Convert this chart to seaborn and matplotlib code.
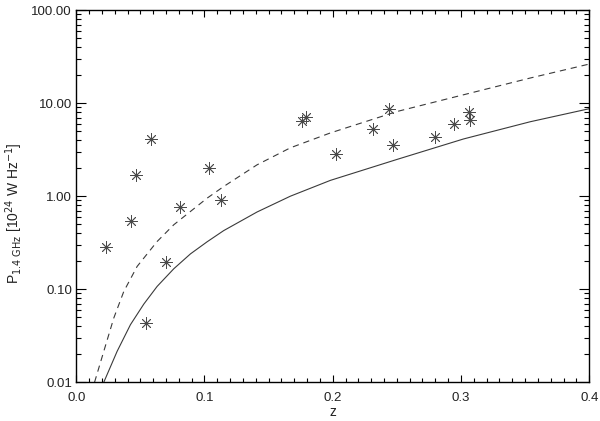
import numpy as np
import pandas as pd
import matplotlib
matplotlib.use("Agg")
import matplotlib.pyplot as plt
from matplotlib.ticker import MultipleLocator, LogLocator, FixedLocator, NullFormatter
import seaborn as sns

# Data points
z_obs = [0.0236, 0.0426, 0.0465, 0.0587, 0.0548, 0.0704, 0.0813, 0.1036, 0.1132,
         0.1761, 0.1795, 0.2028, 0.2317, 0.2436, 0.2473, 0.2795, 0.2945, 0.3059, 0.3073]
P_obs = [0.283, 0.544, 1.70, 4.15, 0.0432, 0.194, 0.762, 2.03, 0.914,
         6.46, 7.18, 2.85, 5.25, 8.69, 3.56, 4.38, 6.04, 7.98, 6.61]

# Solid limit curve
solid_z = [0.0215, 0.0319, 0.0423, 0.0527, 0.0631, 0.0761, 0.0891, 0.1021, 0.1150,
           0.1410, 0.1670, 0.1982, 0.2501, 0.3020, 0.3540, 0.4000]
solid_P = [0.0100, 0.0215, 0.0416, 0.0692, 0.1072, 0.1660, 0.2399, 0.3236, 0.4266,
           0.6761, 1.000, 1.479, 2.483, 4.121, 6.310, 8.710]

# Dashed limit curve
dashed_z = [0.0143, 0.0215, 0.0293, 0.0371, 0.0475, 0.0631, 0.0761, 0.0891, 0.1021,
            0.1150, 0.1410, 0.1670, 0.1982, 0.2501, 0.3020, 0.3540, 0.4000]
dashed_P = [0.0100, 0.0215, 0.0490, 0.0946, 0.1758, 0.3258, 0.4932, 0.6855, 0.9528,
            1.2706, 2.173, 3.311, 4.786, 8.128, 12.30, 18.62, 26.30]

x_ticks = [0.0, 0.1, 0.2, 0.3, 0.4]
x_ticklabels = ["0.0", "0.1", "0.2", "0.3", "0.4"]
y_ticks = [0.01, 0.1, 1, 10, 100]
y_ticklabels = ["0.01", "0.10", "1.00", "10.00", "100.00"]

sns.set_style("ticks")
plt.rcParams['font.family'] = ['Liberation Sans', 'DejaVu Sans']
plt.rcParams['lines.scale_dashes'] = False

fig = plt.figure(figsize=(6.0, 4.21), dpi=100)
ax = fig.add_axes([0.127, 0.092, 0.855, 0.884])

col = "#3a3a3a"
sns.lineplot(x=solid_z, y=solid_P, ax=ax, color=col, lw=0.8, sort=False, estimator=None)
sns.lineplot(x=dashed_z, y=dashed_P, ax=ax, color=col, lw=0.8, sort=False, estimator=None)
ax.lines[-1].set_dashes((4.5, 3.5))
sns.scatterplot(x=z_obs, y=P_obs, ax=ax, marker=(8, 2, 0), s=70, color="#4a4a4a",
                linewidth=0.6, edgecolor="#4a4a4a")

ax.set_yscale("log")
ax.set_xlim(0.0, 0.4)
ax.set_ylim(0.01, 100)

ax.xaxis.set_major_locator(FixedLocator(x_ticks))
ax.set_xticklabels(x_ticklabels)
ax.xaxis.set_minor_locator(MultipleLocator(0.01))
ax.yaxis.set_major_locator(FixedLocator(y_ticks))
ax.set_yticklabels(y_ticklabels)
ax.yaxis.set_minor_locator(LogLocator(base=10, subs=np.arange(2, 10)))
ax.yaxis.set_minor_formatter(NullFormatter())

ax.tick_params(axis='both', which='both', direction='in', top=True, right=True,
               colors='black', labelsize=9.5, labelcolor='#222222')
ax.tick_params(axis='x', which='major', length=5, width=0.8, pad=7)
ax.tick_params(axis='x', which='minor', length=3, width=0.8)
ax.tick_params(axis='y', which='major', length=7, width=0.8, pad=3)
ax.tick_params(axis='y', which='minor', length=3.6, width=0.8)

for sp in ax.spines.values():
    sp.set_linewidth(1.0)
    sp.set_color('black')

ax.set_xlabel("z", fontsize=10, color='#222222')
ax.set_ylabel(r"P$_{\rm 1.4\ GHz}$ [10$^{24}$ W Hz$^{-1}$]", fontsize=10, color='#222222')
ax.yaxis.set_label_coords(-0.099, 0.455)
ax.xaxis.set_label_coords(0.5, -0.062)

fig.savefig("out.png", dpi=100, facecolor='white')
